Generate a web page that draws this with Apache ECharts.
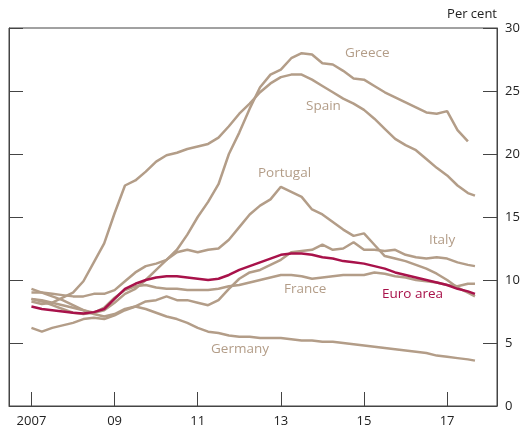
<!DOCTYPE html>
<html>
<head>
<meta charset="utf-8">
<script src="https://cdn.jsdelivr.net/npm/echarts@6/dist/echarts.min.js"></script>
<style>
    html, body { margin: 0; padding: 0; background: #fff; }
    #chart { width: 527px; height: 429px; }
</style>
</head>
<body>
<div id="chart"></div>
<script>
    // quarterly readings, Jan 2007 .. Jul 2017, plus a last point around Sep 2017
    const quarters = [];
    for (let i = 0; i < 43; i++) quarters.push(2007 + i / 4);
    quarters.push(2017.67);

    const tickYears = [2007, 2009, 2011, 2013, 2015, 2017];
    const tickLabels = ['2007', '09', '11', '13', '15', '17'];

    const greece = [8.5, 8.4, 8.2, 8.0, 7.8, 7.6, 7.4, 7.6, 8.2, 8.9, 9.3, 10.0,
        10.8, 11.6, 12.4, 13.6, 15.0, 16.2, 17.6, 20.0, 21.7, 23.6, 25.3, 26.3,
        26.7, 27.6, 28.0, 27.9, 27.2, 27.1, 26.6, 26.0, 25.9, 25.4, 24.9, 24.5,
        24.1, 23.7, 23.3, 23.2, 23.4, 21.9, 21.0, null];
    const spain = [8.3, 8.1, 8.2, 8.6, 9.0, 9.9, 11.4, 12.9, 15.3, 17.5, 17.9, 18.6,
        19.4, 19.9, 20.1, 20.4, 20.6, 20.8, 21.3, 22.2, 23.2, 24.0, 24.9, 25.6,
        26.1, 26.3, 26.3, 25.9, 25.4, 24.9, 24.4, 24.0, 23.5, 22.8, 22.0, 21.2,
        20.7, 20.3, 19.6, 18.9, 18.3, 17.5, 16.9, 16.7];
    const portugal = [9.0, 9.0, 8.9, 8.8, 8.7, 8.7, 8.9, 8.9, 9.2, 9.9, 10.6, 11.1,
        11.3, 11.6, 12.2, 12.4, 12.2, 12.4, 12.5, 13.2, 14.2, 15.2, 15.9, 16.4,
        17.4, 17.0, 16.6, 15.6, 15.2, 14.6, 14.0, 13.5, 13.7, 12.8, 11.9, 11.7,
        11.5, 11.2, 10.9, 10.5, 10.0, 9.4, 9.0, 8.7];
    const italy = [6.2, 5.9, 6.2, 6.4, 6.6, 6.9, 7.0, 6.9, 7.2, 7.6, 7.9, 8.3,
        8.4, 8.7, 8.4, 8.4, 8.2, 8.0, 8.4, 9.3, 10.1, 10.6, 10.8, 11.2,
        11.6, 12.2, 12.3, 12.4, 12.8, 12.4, 12.5, 13.0, 12.4, 12.4, 12.3, 12.4,
        12.0, 11.8, 11.7, 11.8, 11.7, 11.4, 11.2, 11.1];
    const france = [8.5, 8.3, 8.0, 7.7, 7.4, 7.3, 7.4, 7.8, 8.6, 9.2, 9.5, 9.6,
        9.4, 9.3, 9.3, 9.2, 9.2, 9.2, 9.3, 9.5, 9.6, 9.8, 10.0, 10.2,
        10.4, 10.4, 10.3, 10.1, 10.2, 10.3, 10.4, 10.4, 10.4, 10.6, 10.5, 10.3,
        10.2, 10.0, 9.9, 9.8, 9.6, 9.5, 9.7, 9.7];
    const germany = [9.3, 9.0, 8.7, 8.4, 8.0, 7.6, 7.3, 7.1, 7.3, 7.7, 7.9, 7.7,
        7.4, 7.1, 6.9, 6.6, 6.2, 5.9, 5.8, 5.6, 5.5, 5.5, 5.4, 5.4,
        5.4, 5.3, 5.2, 5.2, 5.1, 5.1, 5.0, 4.9, 4.8, 4.7, 4.6, 4.5,
        4.4, 4.3, 4.2, 4.0, 3.9, 3.8, 3.7, 3.6];
    const euroArea = [7.9, 7.7, 7.6, 7.5, 7.4, 7.35, 7.45, 7.7, 8.5, 9.3, 9.7, 10.0,
        10.2, 10.3, 10.3, 10.2, 10.1, 10.0, 10.1, 10.4, 10.8, 11.1, 11.4, 11.7,
        12.0, 12.1, 12.1, 12.0, 11.8, 11.7, 11.5, 11.4, 11.3, 11.1, 10.9, 10.6,
        10.4, 10.2, 10.0, 9.8, 9.6, 9.3, 9.1, 8.9];

    const tan = '#b39d88';
    const red = '#a8124a';
    const font = 'Open Sans';

    function pairs(vals) {
        return vals.map((v, i) => [quarters[i], v]);
    }

    function line(name, vals, color, z) {
        return {
            name: name,
            type: 'line',
            data: pairs(vals),
            showSymbol: false,
            z: z,
            lineStyle: { color: color, width: 2.5 },
            itemStyle: { color: color },
        };
    }

    function tag(text, x, y, color) {
        return {
            type: 'text',
            left: x,
            top: y,
            style: { text: text, fill: color, font: '13.5px "' + font + '"' },
        };
    }

    const chart = echarts.init(document.getElementById('chart'));
    chart.setOption({
        animation: false,
        grid: {
            left: 9, right: 30, top: 28, bottom: 23,
            show: true, borderColor: '#444', borderWidth: 1,
        },
        xAxis: {
            type: 'value',
            min: 2006.46,
            max: 2018.2,
            splitLine: { show: false },
            axisLine: { show: true, lineStyle: { color: '#444' } },
            axisTick: {
                show: true, inside: true, length: 14,
                customValues: tickYears,
                lineStyle: { color: '#444', width: 1 },
            },
            axisLabel: {
                customValues: tickYears,
                formatter: v => tickLabels[tickYears.indexOf(v)],
                color: '#222', fontSize: 13, fontFamily: font, margin: 9,
            },
        },
        yAxis: [{
            type: 'value',
            position: 'right',
            min: 0, max: 30, interval: 5,
            name: 'Per cent',
            nameLocation: 'end',
            nameGap: 7,
            nameTextStyle: { color: '#222', fontSize: 13, fontFamily: font, align: 'right', verticalAlign: 'bottom' },
            splitLine: { show: false },
            axisLine: { show: true, lineStyle: { color: '#444' } },
            axisTick: { show: true, inside: true, length: 14, lineStyle: { color: '#444' } },
            axisLabel: { color: '#222', fontSize: 13, fontFamily: font, margin: 8 },
        }, {
            type: 'value',
            position: 'left',
            min: 0, max: 30, interval: 5,
            splitLine: { show: false },
            axisLine: { show: true, lineStyle: { color: '#444' } },
            axisTick: { show: true, inside: true, length: 14, lineStyle: { color: '#444' } },
            axisLabel: { show: false },
        }],
        series: [
            line('Germany', germany, tan, 2),
            line('France', france, tan, 2),
            line('Italy', italy, tan, 2),
            line('Portugal', portugal, tan, 2),
            line('Spain', spain, tan, 2),
            line('Greece', greece, tan, 2),
            line('Euro area', euroArea, red, 3),
        ],
        graphic: [
            tag('Greece', 345, 46, tan),
            tag('Spain', 306, 99, tan),
            tag('Portugal', 258, 166, tan),
            tag('Italy', 429, 233, tan),
            tag('France', 284, 282, tan),
            tag('Euro area', 382, 287, red),
            tag('Germany', 211, 342, tan),
        ],
    });
</script>
</body>
</html>
